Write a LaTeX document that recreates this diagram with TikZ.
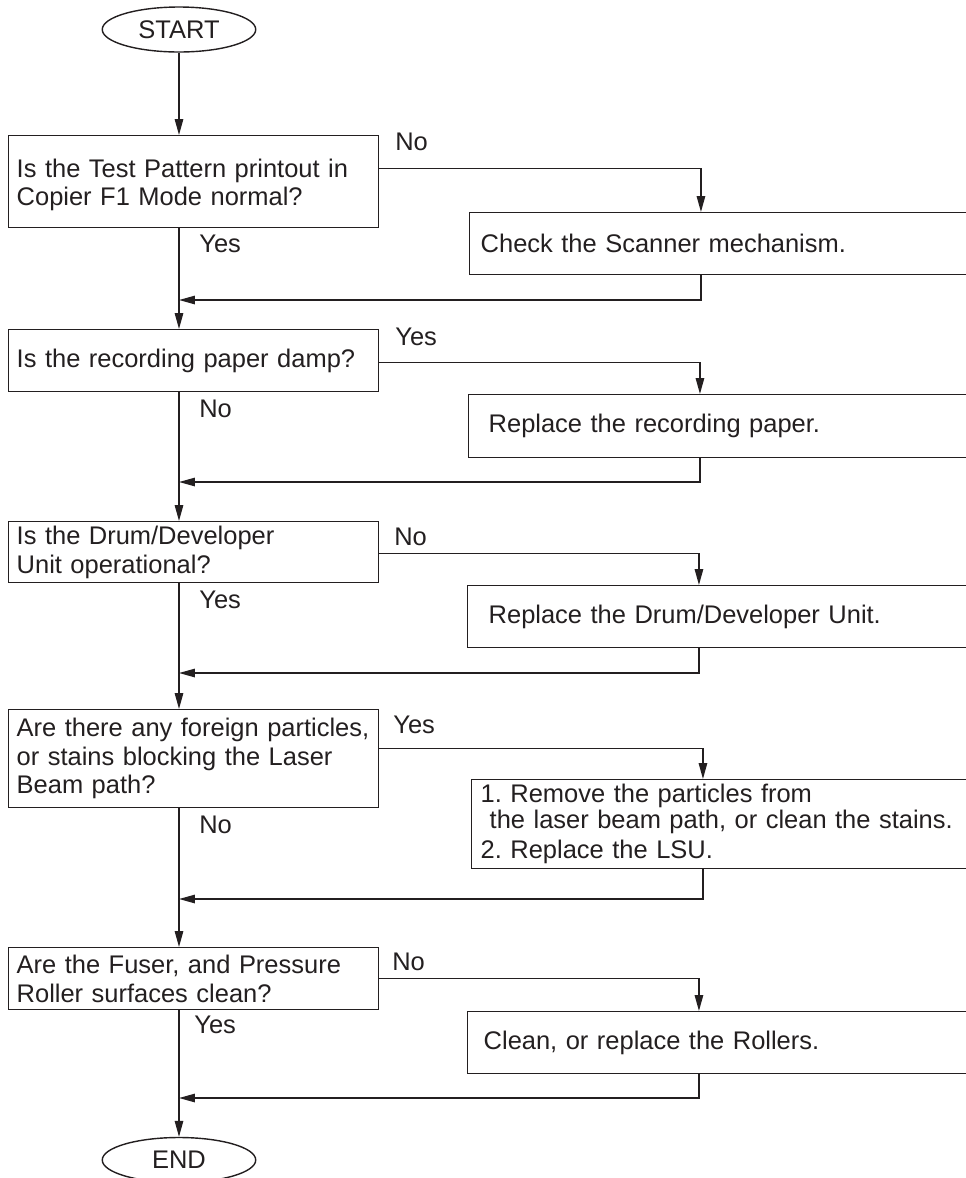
\documentclass[tikz,border=0pt]{standalone}
\usepackage{fontspec}
\setmainfont{Liberation Sans}
\usetikzlibrary{positioning, arrows.meta, shapes.geometric}
\definecolor{lineColor}{RGB}{35,31,32}
\tikzstyle{chart} = [x = 0.02cm, y = -0.02cm, every node/.style={text=lineColor}]
\tikzstyle{lineStyle} = [color=lineColor, line width=0.8pt]
\tikzstyle{arrowStyle} = [lineStyle, -{Triangle[length=0.32cm, width=0.17cm]}]
\tikzstyle{terminalStyle} = [draw=lineColor, line width=0.8pt, ellipse, minimum width=3.07cm, minimum height=0.9cm, inner sep=0pt, font=\fontsize{14.5}{16}\selectfont]
\tikzstyle{questionStyle} = [draw=lineColor, line width=0.8pt, anchor=north west, text width=7.08cm, inner xsep=0.16cm, inner ysep=0pt, align=left, font=\fontsize{14.5}{16.2}\selectfont]
\tikzstyle{actionStyle} = [draw=lineColor, line width=0.8pt, anchor=north west, text width=10cm, inner ysep=0pt, align=left, font=\fontsize{14.5}{16.2}\selectfont]
\tikzstyle{answerText} = [anchor=base west, inner sep=0pt, font=\fontsize{14.5}{16}\selectfont]
\newcommand{\mainX}{179}
\newcommand{\dropShift}{4.64cm}
% #1 question, #2 action, #3 merge point, #4 exit height on the question box
\newcommand{\sideBranch}[4]{
  \draw [arrowStyle] ([yshift=#4]#1.east) -| ([xshift=\dropShift]#2.north west);
  \draw [arrowStyle] ([xshift=\dropShift]#2.south west) |- (#3);
}
\begin{document}
\begin{tikzpicture}[chart]
  \useasboundingbox (0,0) rectangle (965,1178);

  \node [terminalStyle] (start) at (\mainX, 29.5) {START};

  \node [questionStyle, minimum height=1.84cm] (q1) at (8, 135) {\rule{0pt}{14pt}Is the Test Pattern printout in\\Copier F1 Mode normal?};
  \node [questionStyle, minimum height=1.24cm] (q2) at (8, 329) {Is the recording paper damp?};
  \node [questionStyle, minimum height=1.22cm] (q3) at (8, 521) {Is the Drum/Developer\\Unit operational?};
  \node [questionStyle, minimum height=1.96cm] (q4) at (8, 709) {Are there any foreign particles,\\or stains blocking the Laser\\Beam path?};
  \node [questionStyle, minimum height=1.24cm] (q5) at (8, 947) {Are the Fuser, and Pressure\\Roller surfaces clean?};

  \node [actionStyle, inner xsep=0.22cm, minimum height=1.24cm] (a1) at (469, 212) {Check the Scanner mechanism.};
  \node [actionStyle, inner xsep=0.4cm, minimum height=1.26cm] (a2) at (468, 394) {Replace the recording paper.};
  \node [actionStyle, inner xsep=0.42cm, minimum height=1.24cm] (a3) at (467, 585) {Replace the Drum/Developer Unit.};
  \node [actionStyle, inner xsep=0.18cm, minimum height=1.78cm, font=\fontsize{14.5}{13.5}\selectfont] (a4) at (471, 779) {1.~Remove the particles from\\\hspace*{0.18cm}the laser beam path, or clean the stains.\\[3pt]2.~Replace the LSU.};
  \node [actionStyle, inner xsep=0.32cm, minimum height=1.24cm] (a5) at (467, 1011) {Clean, or replace the Rollers.};

  \node [terminalStyle] (end) at (\mainX, 1160) {END};

  % answers
  \node [answerText] (no1) at (395, 150) {No};
  \node [answerText] (yes1) at (199, 252) {Yes};
  \node [answerText] (yes2) at (395, 345) {Yes};
  \node [answerText] (no2) at (199, 417) {No};
  \node [answerText] (no3) at (394, 545) {No};
  \node [answerText] (yes3) at (199, 608) {Yes};
  \node [answerText] (yes4) at (393, 733) {Yes};
  \node [answerText] (no4) at (199, 833) {No};
  \node [answerText] (no5) at (392, 970) {No};
  \node [answerText] (yes5) at (194, 1033) {Yes};

  % merge points on the main line
  \coordinate (m1) at (\mainX, 300);
  \coordinate (m2) at (\mainX, 482);
  \coordinate (m3) at (\mainX, 673);
  \coordinate (m4) at (\mainX, 899);
  \coordinate (m5) at (\mainX, 1098);

  % main line
  \draw [arrowStyle] (start.south) -- (start.south |- q1.north);
  \draw [arrowStyle] (m1 |- q1.south) -- (m1 |- q2.north);
  \draw [arrowStyle] (m2 |- q2.south) -- (m2 |- q3.north);
  \draw [arrowStyle] (m3 |- q3.south) -- (m3 |- q4.north);
  \draw [arrowStyle] (m4 |- q4.south) -- (m4 |- q5.north);
  \draw [arrowStyle] (m5 |- q5.south) -- (end.north);

  % side branches
  \sideBranch{q1}{a1}{m1}{0.26cm}
  \sideBranch{q2}{a2}{m2}{-0.04cm}
  \sideBranch{q3}{a3}{m3}{-0.03cm}
  \sideBranch{q4}{a4}{m4}{0.2cm}
  \sideBranch{q5}{a5}{m5}{0cm}
\end{tikzpicture}
\end{document}
